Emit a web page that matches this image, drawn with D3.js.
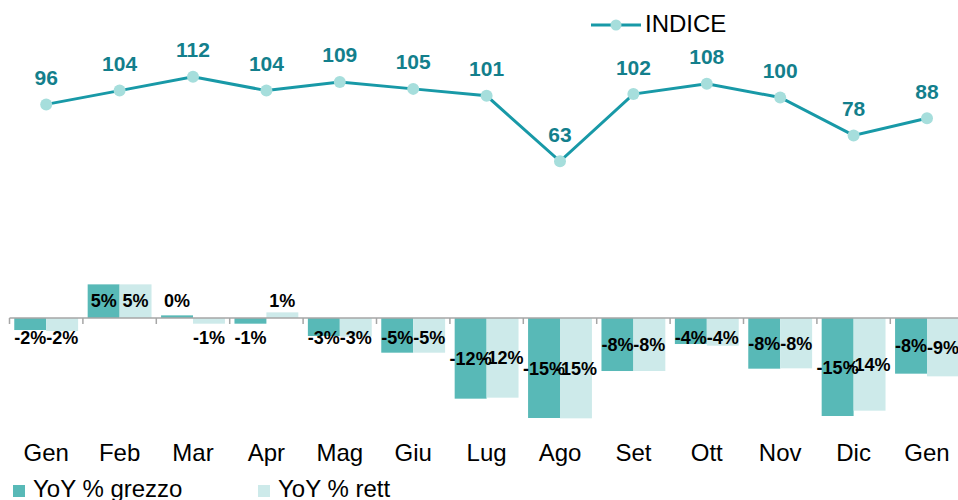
<!DOCTYPE html>
<html lang="it">
<head>
<meta charset="UTF-8">
<title>Indice e YoY</title>
<script src="https://d3js.org/d3.v7.min.js"></script>
<style>
  body { margin: 0; background: white; }
  svg { display: block; font-family: "Liberation Sans", Arial, sans-serif; }
</style>
</head>
<body>
<svg id="chart" width="958" height="500"></svg>
<script>
const width = 958, height = 500;

// Data
const months = ["Gen", "Feb", "Mar", "Apr", "Mag", "Giu", "Lug", "Ago", "Set", "Ott", "Nov", "Dic", "Gen"];
const indice = [96, 104, 112, 104, 109, 105, 101, 63, 102, 108, 100, 78, 88];
const yoyGrezzo = [-1.8, 5.05, 0.4, -0.85, -2.7, -5.2, -12.1, -15.0, -7.95, -3.9, -7.6, -14.7, -8.35];
const yoyRett = [-1.95, 5.05, -0.85, 0.85, -2.8, -5.2, -11.95, -15.05, -7.95, -4.15, -7.55, -13.9, -8.75];
const seriesNames = ["YoY % grezzo", "YoY % rett"];

const colGrezzo = "#58b9b7", colRett = "#cdeaea";
const colLine = "#1899a7", colMarker = "#a6dedc", colLabel = "#137f8c";

const svg = d3.select("#chart");

// scales
const x = d3.scaleBand()
  .domain(d3.range(months.length))
  .range([9.5, 9.5 + 73.4 * months.length])
  .paddingInner(0.13)
  .paddingOuter(0.065);

const xSub = d3.scaleBand().domain([0, 1]).range([0, x.bandwidth()]);

const yBar = d3.scaleLinear().domain([-15, 5]).range([418, 284.7]);
const yLine = d3.scaleLinear().domain([0, 120]).range([270, 63]);

const zero = yBar(0);

// bars
const bars = svg.append("g");
months.forEach((m, i) => {
  [yoyGrezzo[i], yoyRett[i]].forEach((v, s) => {
    bars.append("rect")
      .attr("x", x(i) + xSub(s))
      .attr("width", xSub.bandwidth())
      .attr("y", Math.min(yBar(v), zero))
      .attr("height", Math.abs(yBar(v) - zero))
      .attr("fill", s === 0 ? colGrezzo : colRett);
  });
});

// category axis
svg.append("line")
  .attr("x1", x.range()[0]).attr("x2", width)
  .attr("y1", zero).attr("y2", zero)
  .attr("stroke", "#a6a6a6").attr("stroke-width", 1.5);

months.forEach((m, i) => {
  const bx = x(i) - x.step() * x.paddingInner() / 2;
  svg.append("line")
    .attr("x1", bx).attr("x2", bx)
    .attr("y1", zero).attr("y2", zero + 6)
    .attr("stroke", "#a6a6a6").attr("stroke-width", 1.5);
  svg.append("text")
    .attr("x", x(i) + x.bandwidth() / 2)
    .attr("y", 461)
    .attr("text-anchor", "middle")
    .attr("font-size", 24)
    .attr("fill", "#000")
    .text(m);
});

// bar labels
const barLabels = svg.append("g");
months.forEach((m, i) => {
  [yoyGrezzo[i], yoyRett[i]].forEach((v, s) => {
    const mid = (yBar(v) + zero) / 2;
    const cy = v >= 0 ? Math.min(mid, zero - 17.5) : Math.max(mid, zero + 19);
    barLabels.append("text")
      .attr("x", x(i) + xSub(s) + xSub.bandwidth() / 2)
      .attr("y", cy + 6.5)
      .attr("text-anchor", "middle")
      .attr("font-size", 18)
      .attr("font-weight", "bold")
      .attr("fill", "#000")
      .text(Math.round(v) + "%");
  });
});

// index line
const cx = i => x(i) + x.bandwidth() / 2;
const line = d3.line().x((d, i) => cx(i)).y(d => yLine(d));

svg.append("path")
  .datum(indice)
  .attr("d", line)
  .attr("fill", "none")
  .attr("stroke", colLine)
  .attr("stroke-width", 3);

svg.append("g").selectAll("circle")
  .data(indice)
  .enter().append("circle")
  .attr("cx", (d, i) => cx(i))
  .attr("cy", d => yLine(d))
  .attr("r", 6)
  .attr("fill", colMarker);

svg.append("g").selectAll("text")
  .data(indice)
  .enter().append("text")
  .attr("x", (d, i) => cx(i))
  .attr("y", d => yLine(d) - 19.5)
  .attr("text-anchor", "middle")
  .attr("font-size", 21)
  .attr("font-weight", "bold")
  .attr("fill", colLabel)
  .text(d => d);

// top legend
svg.append("line")
  .attr("x1", 591).attr("x2", 641).attr("y1", 25).attr("y2", 25)
  .attr("stroke", colLine).attr("stroke-width", 3);
svg.append("circle")
  .attr("cx", 616).attr("cy", 25).attr("r", 5.5).attr("fill", colMarker);
svg.append("text")
  .attr("x", 645).attr("y", 32)
  .attr("font-size", 24).attr("fill", "#000")
  .text("INDICE");

// bottom legend
const legendX = [13, 258];
seriesNames.forEach((name, s) => {
  svg.append("rect")
    .attr("x", legendX[s]).attr("y", 485)
    .attr("width", 12).attr("height", 12)
    .attr("fill", s === 0 ? colGrezzo : colRett);
  svg.append("text")
    .attr("x", legendX[s] + 20).attr("y", 497)
    .attr("font-size", 24).attr("fill", "#000")
    .text(name);
});
</script>
</body>
</html>
